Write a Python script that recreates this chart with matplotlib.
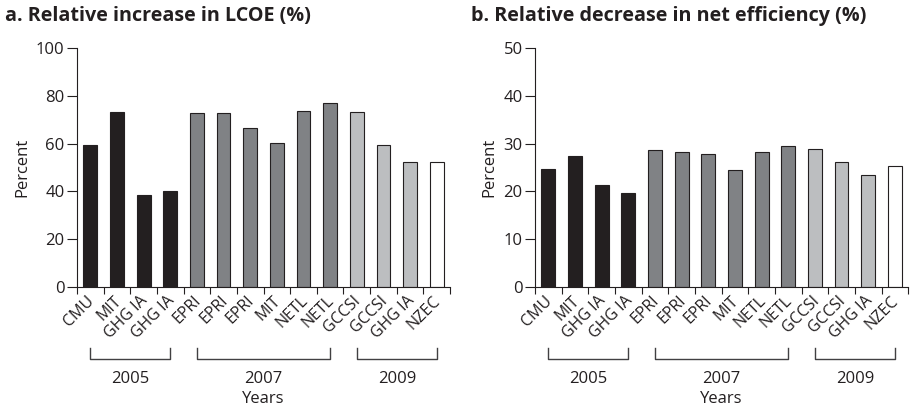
import matplotlib
matplotlib.use("Agg")
import matplotlib.pyplot as plt
import matplotlib.transforms as mtransforms
import numpy as np

plt.rcParams['font.family'] = ['Open Sans', 'DejaVu Sans']

studies = ['CMU', 'MIT', 'GHG IA', 'GHG IA', 'EPRI', 'EPRI', 'EPRI', 'MIT',
           'NETL', 'NETL', 'GCCSI', 'GCCSI', 'GHG IA', 'NZEC']
lcoe_increase = [59.5, 73.1, 38.6, 40.2, 72.7, 72.7, 66.7, 60.4,
                 73.6, 76.8, 73.2, 59.3, 52.2, 52.2]
eff_decrease = [24.6, 27.5, 21.4, 19.7, 28.7, 28.3, 27.8, 24.5,
                28.3, 29.6, 28.9, 26.1, 23.5, 25.3]
# year groups: (label, first bar index, last bar index)
year_groups = [('2005', 0, 3), ('2007', 4, 9), ('2009', 10, 13)]
bar_colors = ['#231f20'] * 4 + ['#808285'] * 6 + ['#bcbec0'] * 3 + ['#ffffff']

fig = plt.figure(figsize=(9.1, 4.09), dpi=100)
ax_a = fig.add_axes([0.0846, 0.2983, 0.41, 0.5843])
ax_b = fig.add_axes([0.588, 0.2983, 0.41, 0.5843])

txt_col = '#231f20'
fs = 12


def draw_panel(ax, values, ymax, title, title_x):
    x = np.arange(len(values)) + 0.5
    ax.bar(x, values, width=0.52, color=bar_colors, edgecolor='#231f20',
           linewidth=0.8, zorder=2)
    ax.set_xlim(0, len(values))
    ax.set_ylim(0, ymax)
    ax.set_yticks(np.linspace(0, ymax, 6))
    ax.set_xticks(np.arange(len(values) + 1))
    ax.set_xticklabels([])
    ax.tick_params(axis='y', length=7, width=0.8, labelsize=fs,
                   colors=txt_col, pad=2)
    ax.tick_params(axis='x', length=5, width=0.8, colors=txt_col)
    for s in ['top', 'right']:
        ax.spines[s].set_visible(False)
    for s in ['left', 'bottom']:
        ax.spines[s].set_linewidth(0.8)
        ax.spines[s].set_color(txt_col)
    ax.set_ylabel('Percent', fontsize=fs, color=txt_col, labelpad=4)

    trans = mtransforms.blended_transform_factory(ax.transData, ax.transAxes)
    for xi, name in zip(x, studies):
        ax.text(xi - 0.15, -0.025, name, transform=trans, rotation=45,
                ha='right', va='top', rotation_mode='anchor',
                fontsize=fs - 0.5, color=txt_col)
    for label, i0, i1 in year_groups:
        ax.plot([x[i0], x[i0], x[i1], x[i1]], [-0.255, -0.301, -0.301, -0.255],
                transform=trans, clip_on=False, color='#414042', lw=1.0)
        ax.text((x[i0] + x[i1]) / 2, -0.35, label, transform=trans,
                ha='center', va='top', fontsize=fs, color=txt_col)
    ax.text(0.5, -0.435, 'Years', transform=ax.transAxes, ha='center',
            va='top', fontsize=fs, color=txt_col)
    fig.text(title_x, 0.962, title, ha='left', va='center', fontsize=14.2,
             fontweight='bold', color=txt_col)


draw_panel(ax_a, lcoe_increase, 100, 'a. Relative increase in LCOE (%)', 0.006)
draw_panel(ax_b, eff_decrease, 50, 'b. Relative decrease in net efficiency (%)', 0.518)

fig.savefig('out.png', dpi=100)
